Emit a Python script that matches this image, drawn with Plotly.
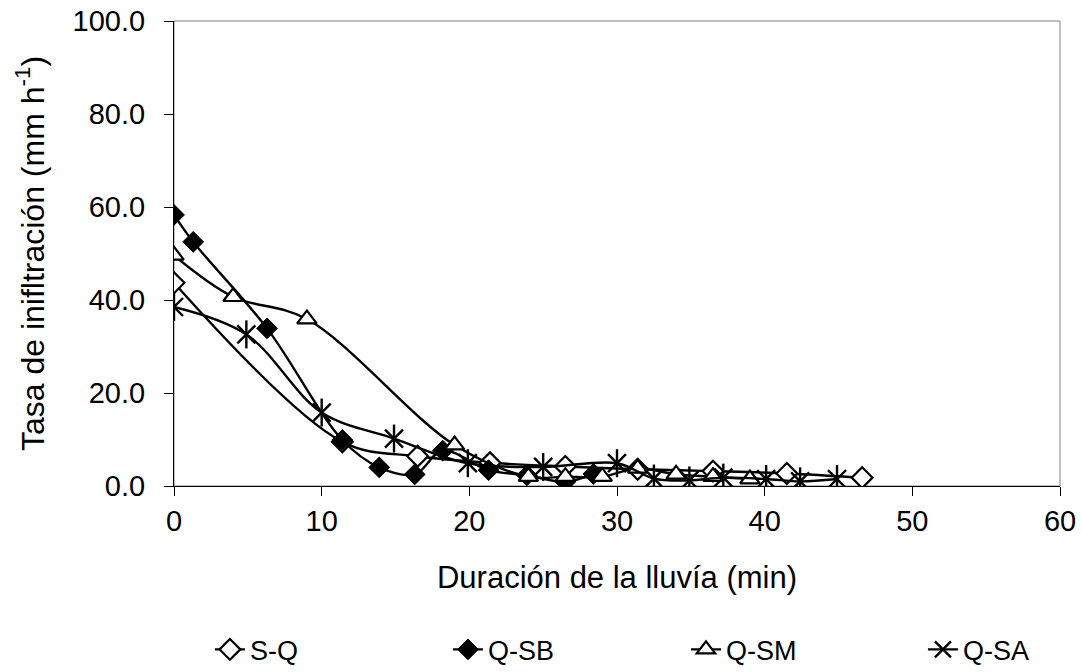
import plotly.graph_objects as go

# S-Q (open diamond)
sq_x = [0, 11.4, 16.5, 21.4, 26.5, 31.4, 36.5, 41.5, 46.6]
sq_y = [43.7, 9.5, 6.4, 5.0, 4.2, 3.6, 3.2, 2.7, 1.8]
# Q-SB (filled diamond)
qsb_x = [0, 1.3, 6.3, 11.4, 13.9, 16.3, 18.2, 21.3, 23.9, 26.5, 28.4]
qsb_y = [58.3, 52.5, 33.9, 9.9, 4.0, 2.5, 7.6, 3.4, 2.3, 0.9, 2.6]
# Q-SM (open triangle)
qsm_x = [0, 4.0, 9.0, 19.0, 24.0, 26.5, 29.0, 31.4, 34.0, 36.5, 39.0]
qsm_y = [49.6, 40.7, 35.9, 8.8, 2.0, 2.0, 2.0, 3.8, 2.5, 2.0, 1.5]
# Q-SA (asterisk)
qsa_x = [0, 4.9, 10.0, 14.9, 19.9, 25.0, 30.0, 32.5, 34.9, 37.2, 40.1, 42.4, 44.9]
qsa_y = [38.5, 32.6, 15.8, 10.2, 4.9, 4.1, 4.9, 1.6, 1.2, 1.8, 1.5, 1.0, 1.5]

names = ["S-Q", "Q-SB", "Q-SM", "Q-SA"]
x_ticks = [0, 10, 20, 30, 40, 50, 60]
y_ticks = [0, 20, 40, 60, 80, 100]

FONT = "Liberation Sans, Arial, sans-serif"
line = dict(color="black", width=2.4, shape="spline", smoothing=1.0)

fig = go.Figure()
fig.add_trace(go.Scatter(x=sq_x, y=sq_y, name=names[0], mode="lines+markers", line=line,
                         legend="legend",
                         marker=dict(symbol="diamond", size=16, color="white",
                                     line=dict(color="black", width=2.2))))
fig.add_trace(go.Scatter(x=qsb_x, y=qsb_y, name=names[1], mode="lines+markers", line=line,
                         legend="legend2",
                         marker=dict(symbol="diamond", size=16, color="black",
                                     line=dict(color="black", width=1))))
fig.add_trace(go.Scatter(x=qsm_x, y=qsm_y, name=names[2], mode="lines+markers", line=line,
                         legend="legend3",
                         marker=dict(symbol="triangle-up", size=17, color="white",
                                     line=dict(color="black", width=2.2))))
fig.add_trace(go.Scatter(x=qsa_x, y=qsa_y, name=names[3], mode="lines+markers", line=line,
                         legend="legend4", legendgroup="qsa",
                         marker=dict(symbol="x-thin-open", size=18, color="black",
                                     line=dict(color="black", width=2.4))))
fig.add_trace(go.Scatter(x=qsa_x, y=qsa_y, name=names[3], mode="markers", showlegend=False,
                         legend="legend4", legendgroup="qsa",
                         marker=dict(symbol="line-ns-open", size=20, color="black",
                                     line=dict(color="black", width=2.4))))

def leg(xpos):
    return dict(orientation="h", xref="container", yref="container",
                x=xpos, y=0.033, xanchor="left", yanchor="middle",
                font=dict(size=27), bgcolor="rgba(0,0,0,0)")

fig.update_layout(
    width=1082, height=672,
    margin=dict(l=174, r=22, t=21, b=186, autoexpand=False),
    paper_bgcolor="white", plot_bgcolor="white",
    font=dict(family=FONT, size=29, color="black"),
    showlegend=True,
    legend=leg(0.194), legend2=leg(0.414), legend3=leg(0.634), legend4=leg(0.853),
    xaxis=dict(range=[0, 60], tickvals=x_ticks, ticks="outside", ticklen=9,
               tickcolor="black", showline=True, linecolor="black", linewidth=1,
               showgrid=False, zeroline=False, tickfont=dict(size=29), automargin=False,
               title=dict(text="Duración de la lluvía (min)", standoff=30,
                          font=dict(size=31))),
    yaxis=dict(range=[0, 100], tickvals=y_ticks, tickformat=".1f", ticks="outside",
               ticklen=9, tickcolor="black", showline=True, linecolor="black",
               linewidth=1, showgrid=False, zeroline=False, tickfont=dict(size=29),
               ticklabelstandoff=13, automargin=False,
               title=dict(text="Tasa de inifltración (mm h<sup>-1</sup>)", standoff=18,
                          font=dict(size=32))),
    shapes=[dict(type="rect", xref="paper", yref="paper", x0=0, x1=1, y0=0, y1=1,
                 line=dict(color="#808080", width=1), layer="below")],
)

fig.write_html("out.html")
